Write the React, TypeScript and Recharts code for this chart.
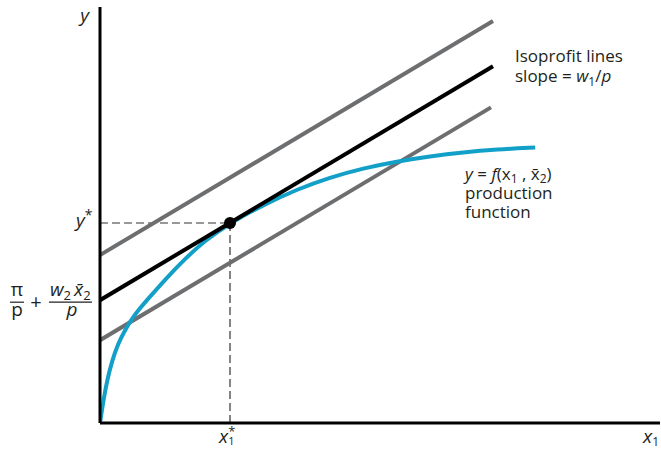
import React from 'react';
import { LineChart, Line, XAxis, YAxis, ReferenceLine, ReferenceDot } from 'recharts';

// production function y = f(x1, x̄2)
const prodX = [0, 0.1, 0.18, 0.3, 0.45, 0.63, 0.78, 0.99, 1.2, 1.62, 2.12, 2.62, 3.25, 4.08, 4.92, 5.75, 6.58, 7.42, 8.25, 9.08, 9.92, 10.88];
const prodY = [0, 0.65, 1.07, 1.55, 1.98, 2.33, 2.58, 2.86, 3.1, 3.58, 4.1, 4.56, 5.0, 5.45, 5.84, 6.14, 6.37, 6.54, 6.67, 6.77, 6.84, 6.89];

// three isoprofit lines (low, optimal, high), slope w1/p
const isoStartY = [2.07, 3.07, 4.2];
const isoEndX = [9.775, 9.825, 9.825];
const isoEndY = [7.89, 8.92, 10.05];
const isoColors = ['#6d6e70', '#000000', '#6d6e70'];

// optimum
const xStar = 3.25;
const yStar = 5.0;

const prodData = prodX.map((x, i) => ({ x, y: prodY[i] }));
const isoData = isoStartY.map((y0, i) => [
  { x: 0, y: y0 },
  { x: isoEndX[i], y: isoEndY[i] },
]);

const FONT = '"Open Sans", sans-serif';
const INK = '#231f20';

function YTick(props: any) {
  const { y, payload } = props;
  if (payload.value === yStar) {
    return (
      <g fontFamily={FONT} fill={INK}>
        <text x={76} y={y + 4} fontSize={19}>
          <tspan fontStyle="italic">y</tspan>
          <tspan fontSize={14} dy={-7}>*</tspan>
        </text>
      </g>
    );
  }
  // intercept of the optimal isoprofit line: π/p + w2·x̄2/p
  return (
    <g fontFamily={FONT} fill={INK}>
      <text x={17} y={y - 4} fontSize={19} textAnchor="middle">π</text>
      <line x1={10} x2={24} y1={y + 2} y2={y + 2} stroke={INK} strokeWidth={1.2} />
      <text x={17} y={y + 16} fontSize={19} textAnchor="middle">p</text>
      <text x={36} y={y + 9} fontSize={20} textAnchor="middle">+</text>
      <text x={50} y={y - 4} fontSize={19}>
        <tspan fontStyle="italic">w</tspan>
        <tspan fontSize={13} dy={4}>2</tspan>
        <tspan dy={-4} dx={3} fontStyle="italic">{'x\u0304'}</tspan>
        <tspan fontSize={13} dy={4}>2</tspan>
      </text>
      <line x1={49} x2={92} y1={y + 2} y2={y + 2} stroke={INK} strokeWidth={1.2} />
      <text x={72} y={y + 16} fontSize={19} fontStyle="italic" textAnchor="middle">p</text>
    </g>
  );
}

function XTick(props: any) {
  const { x } = props;
  return (
    <text x={x - 11} y={443} fontFamily={FONT} fill={INK} fontSize={19}>
      <tspan fontStyle="italic">x</tspan>
      <tspan fontSize={13} dy={-7}>*</tspan>
      <tspan fontSize={11} dx={-7} dy={9}>1</tspan>
    </text>
  );
}

export default function App() {
  return (
    <div style={{ position: 'fixed', left: 0, top: 0, width: 661, height: 449, background: '#fff' }}>
      <LineChart width={661} height={449} margin={{ top: 7, right: 1, left: 0, bottom: 0 }}>
        <XAxis
          type="number"
          dataKey="x"
          domain={[0, 14]}
          allowDataOverflow
          height={26}
          ticks={[xStar]}
          tick={<XTick />}
          tickLine={false}
          axisLine={{ stroke: '#000', strokeWidth: 3 }}
        />
        <YAxis
          type="number"
          dataKey="y"
          domain={[0, 10.4]}
          allowDataOverflow
          width={100}
          ticks={[isoStartY[1], yStar]}
          tick={<YTick />}
          tickLine={false}
          axisLine={{ stroke: '#000', strokeWidth: 3 }}
        />
        <ReferenceLine
          segment={[{ x: 0, y: yStar }, { x: xStar, y: yStar }]}
          stroke="#333"
          strokeWidth={1.2}
          strokeDasharray="8 4"
        />
        <ReferenceLine
          segment={[{ x: xStar, y: 0 }, { x: xStar, y: yStar }]}
          stroke="#333"
          strokeWidth={1.2}
          strokeDasharray="8 4"
        />
        <Line
          data={isoData[0]}
          dataKey="y"
          type="linear"
          stroke={isoColors[0]}
          strokeWidth={4}
          dot={false}
          isAnimationActive={false}
        />
        <Line
          data={isoData[2]}
          dataKey="y"
          type="linear"
          stroke={isoColors[2]}
          strokeWidth={4}
          dot={false}
          isAnimationActive={false}
        />
        <Line
          data={prodData}
          dataKey="y"
          type="basis"
          stroke="#12a0c8"
          strokeWidth={4}
          dot={false}
          isAnimationActive={false}
        />
        <Line
          data={isoData[1]}
          dataKey="y"
          type="linear"
          stroke={isoColors[1]}
          strokeWidth={4}
          dot={false}
          isAnimationActive={false}
        />
        <ReferenceDot x={xStar} y={yStar} r={6} fill="#000" stroke="none" />

        <g fontFamily={FONT} fill={INK} fontSize={17}>
          <text x={89} y={22} fontSize={19} fontStyle="italic" textAnchor="end">y</text>
          <text x={643} y={443} fontSize={19} fontStyle="italic">
            x<tspan fontSize={12} dy={3} fontStyle="normal">1</tspan>
          </text>
          <text x={515} y={62}>Isoprofit lines</text>
          <text x={515} y={82}>
            slope = <tspan fontStyle="italic">w</tspan>
            <tspan fontSize={12} dy={4}>1</tspan>
            <tspan dy={-4}>/</tspan>
            <tspan fontStyle="italic">p</tspan>
          </text>
          <text x={465} y={180}>
            <tspan fontStyle="italic">y</tspan> = <tspan fontStyle="italic">f</tspan>(x
            <tspan fontSize={12} dy={3}>1</tspan>
            <tspan dy={-3}>{' , x\u0304'}</tspan>
            <tspan fontSize={12} dy={3}>2</tspan>
            <tspan dy={-3}>)</tspan>
          </text>
          <text x={465} y={199}>production</text>
          <text x={465} y={218}>function</text>
        </g>
      </LineChart>
    </div>
  );
}
